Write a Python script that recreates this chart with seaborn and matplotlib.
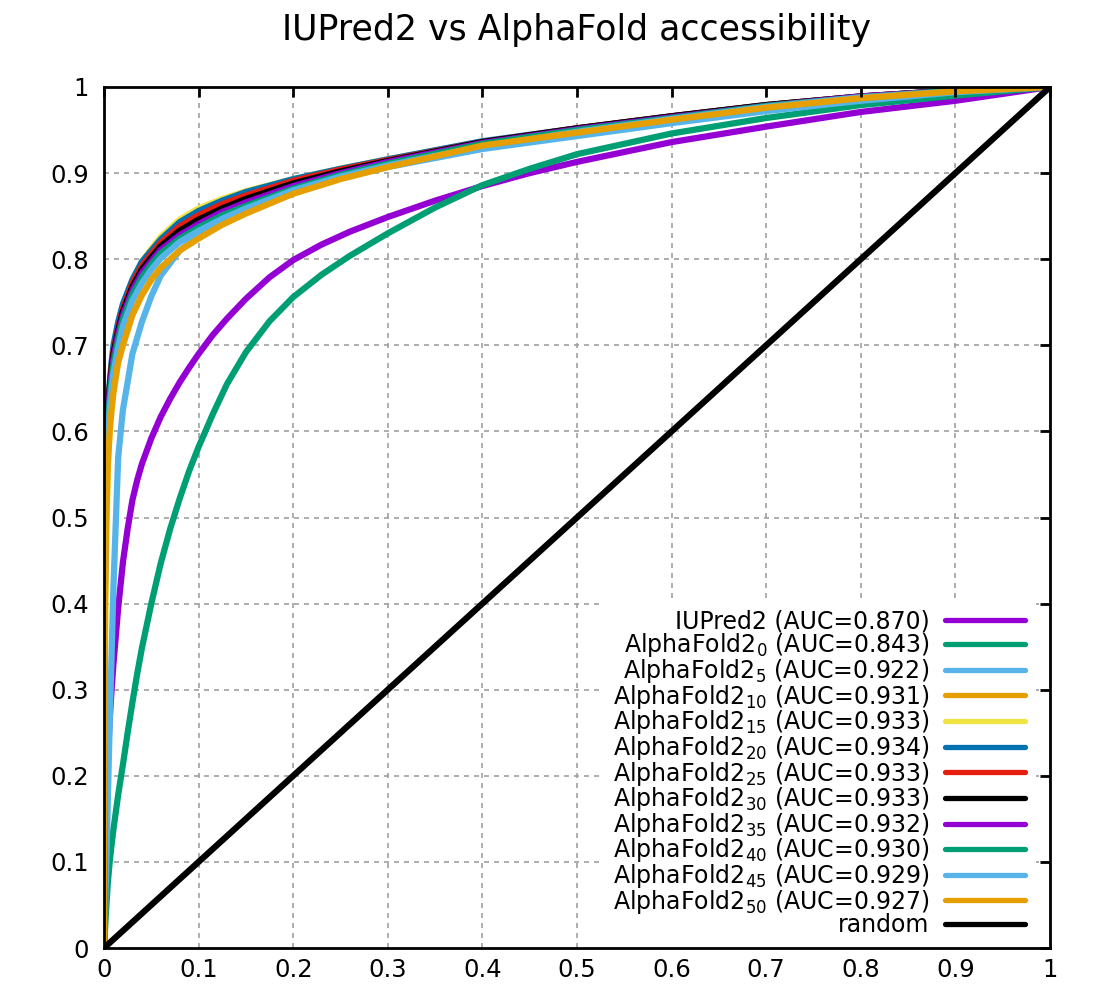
import numpy as np
import pandas as pd
import matplotlib
matplotlib.use('Agg')
import matplotlib.pyplot as plt
from matplotlib.ticker import FormatStrFormatter
import seaborn as sns

# finer FPR grid for the two lower curves
fpr_low = [0, 0.002, 0.004, 0.006, 0.008, 0.01, 0.015, 0.02, 0.025, 0.03, 0.035,
           0.04, 0.05, 0.06, 0.07, 0.08, 0.09, 0.1, 0.115, 0.13, 0.15, 0.175,
           0.2, 0.23, 0.26, 0.3, 0.35, 0.4, 0.45, 0.5, 0.6, 0.7, 0.8, 0.9, 1.0]
tpr_iupred2 = [0, 0.15, 0.22, 0.265, 0.30, 0.33, 0.395, 0.448, 0.487, 0.52, 0.543,
               0.562, 0.592, 0.617, 0.638, 0.657, 0.674, 0.69, 0.712, 0.731, 0.754,
               0.779, 0.799, 0.817, 0.832, 0.849, 0.868, 0.885, 0.90, 0.913, 0.936,
               0.954, 0.971, 0.984, 1.0]
tpr_af0 = [0, 0.04, 0.075, 0.10, 0.12, 0.138, 0.178, 0.213, 0.25, 0.285, 0.318,
           0.348, 0.40, 0.447, 0.487, 0.522, 0.554, 0.582, 0.62, 0.655, 0.692,
           0.728, 0.756, 0.782, 0.804, 0.83, 0.86, 0.886, 0.905, 0.922, 0.946,
           0.964, 0.979, 0.99, 1.0]

# FPR grid for the AlphaFold2 window curves
fpr = [0, 0.001, 0.002, 0.004, 0.006, 0.008, 0.01, 0.015, 0.02, 0.03, 0.04,
       0.05, 0.06, 0.08, 0.1, 0.125, 0.15, 0.2, 0.25, 0.3, 0.4, 0.5, 0.6,
       0.7, 0.8, 0.9, 1.0]
tpr_af5 = [0, 0.04, 0.08, 0.17, 0.26, 0.34, 0.42, 0.57, 0.625, 0.69, 0.727,
           0.757, 0.781, 0.81, 0.828, 0.845, 0.858, 0.879, 0.894, 0.907, 0.928,
           0.943, 0.958, 0.972, 0.984, 0.994, 1.0]
tpr_af10 = [0, 0.47, 0.56, 0.62, 0.65, 0.67, 0.688, 0.715, 0.736, 0.763, 0.782,
            0.795, 0.808, 0.826, 0.838, 0.851, 0.862, 0.881, 0.897, 0.911, 0.934,
            0.949, 0.963, 0.977, 0.988, 0.996, 1.0]
tpr_af15 = [0, 0.35, 0.45, 0.56, 0.60, 0.63, 0.66, 0.71, 0.74, 0.776, 0.797,
            0.812, 0.826, 0.846, 0.859, 0.870, 0.879, 0.893, 0.905, 0.916, 0.936,
            0.951, 0.965, 0.978, 0.988, 0.996, 1.0]
tpr_af20 = [0, 0.45, 0.55, 0.62, 0.655, 0.68, 0.70, 0.727, 0.748, 0.776, 0.797,
            0.81, 0.823, 0.843, 0.856, 0.868, 0.878, 0.893, 0.905, 0.916, 0.937,
            0.952, 0.966, 0.979, 0.989, 0.996, 1.0]
tpr_af25 = [0, 0.44, 0.54, 0.61, 0.65, 0.675, 0.693, 0.72, 0.742, 0.772, 0.792,
            0.806, 0.819, 0.838, 0.851, 0.864, 0.874, 0.891, 0.904, 0.915, 0.936,
            0.952, 0.966, 0.979, 0.989, 0.996, 1.0]
tpr_af30 = [0, 0.46, 0.56, 0.62, 0.65, 0.672, 0.69, 0.717, 0.739, 0.768, 0.788,
            0.802, 0.815, 0.833, 0.846, 0.859, 0.870, 0.888, 0.902, 0.914, 0.936,
            0.952, 0.966, 0.979, 0.989, 0.996, 1.0]
tpr_af35 = [0, 0.45, 0.55, 0.615, 0.645, 0.667, 0.685, 0.713, 0.735, 0.764, 0.784,
            0.798, 0.811, 0.828, 0.841, 0.855, 0.866, 0.885, 0.90, 0.913, 0.935,
            0.951, 0.965, 0.978, 0.989, 0.996, 1.0]
tpr_af40 = [0, 0.44, 0.54, 0.605, 0.637, 0.66, 0.678, 0.707, 0.73, 0.759, 0.779,
            0.794, 0.807, 0.824, 0.837, 0.851, 0.862, 0.882, 0.898, 0.911, 0.934,
            0.95, 0.964, 0.978, 0.988, 0.996, 1.0]
tpr_af45 = [0, 0.42, 0.52, 0.59, 0.625, 0.65, 0.668, 0.698, 0.722, 0.752, 0.772,
            0.788, 0.801, 0.82, 0.833, 0.847, 0.859, 0.88, 0.896, 0.909, 0.931,
            0.948, 0.963, 0.977, 0.988, 0.995, 1.0]
tpr_af50 = [0, 0.40, 0.48, 0.56, 0.60, 0.625, 0.645, 0.68, 0.70, 0.735, 0.758,
            0.776, 0.79, 0.81, 0.824, 0.84, 0.853, 0.876, 0.893, 0.907, 0.932,
            0.947, 0.962, 0.976, 0.987, 0.995, 1.0]
random_x = [0, 1]
random_y = [0, 1]

names = ['IUPred2', 'AlphaFold2$_{0}$', 'AlphaFold2$_{5}$', 'AlphaFold2$_{10}$',
         'AlphaFold2$_{15}$', 'AlphaFold2$_{20}$', 'AlphaFold2$_{25}$',
         'AlphaFold2$_{30}$', 'AlphaFold2$_{35}$', 'AlphaFold2$_{40}$',
         'AlphaFold2$_{45}$', 'AlphaFold2$_{50}$']
auc = [0.870, 0.843, 0.922, 0.931, 0.933, 0.934, 0.933, 0.933, 0.932, 0.930, 0.929, 0.927]
xs = [fpr_low, fpr_low] + [fpr] * 10
curves = [tpr_iupred2, tpr_af0, tpr_af5, tpr_af10, tpr_af15, tpr_af20, tpr_af25,
          tpr_af30, tpr_af35, tpr_af40, tpr_af45, tpr_af50]

# gnuplot default line colours
colors = ['#9400d3', '#009e73', '#56b4e9', '#e69f00', '#f0e442', '#0072b2',
          '#e51e10', '#000000', '#9400d3', '#009e73', '#56b4e9', '#e69f00']

ticks = [0, 0.1, 0.2, 0.3, 0.4, 0.5, 0.6, 0.7, 0.8, 0.9, 1.0]

sns.set_style('white')
plt.rcParams['font.family'] = ['DejaVu Sans']
plt.rcParams['mathtext.fontset'] = 'dejavusans'
plt.rcParams['text.color'] = 'black'
plt.rcParams['axes.titlecolor'] = 'black'

fig, ax = plt.subplots(figsize=(11, 10), dpi=100)
fig.subplots_adjust(left=104 / 1100, right=1050 / 1100, bottom=1 - 948 / 1000, top=1 - 87 / 1000)

# dashed grid behind everything
for t in ticks[1:-1]:
    ax.axvline(t, color='#a0a0a0', lw=1.2, ls=(0, (3, 3)), zorder=0.5)
    ax.axhline(t, color='#a0a0a0', lw=1.2, ls=(0, (3, 3)), zorder=0.5)

for name, a, x, tpr, c in zip(names, auc, xs, curves, colors):
    df = pd.DataFrame({'fpr': x, 'tpr': tpr})
    sns.lineplot(data=df, x='fpr', y='tpr', sort=False, estimator=None,
                 color=c, lw=4.5, label=f'{name} (AUC={a:.3f})', ax=ax)
sns.lineplot(x=random_x, y=random_y, sort=False, estimator=None,
             color='black', lw=4.5, label='random', ax=ax)

ax.set_xlim(0, 1)
ax.set_ylim(0, 1)
ax.set_xticks(ticks)
ax.set_yticks(ticks)
ax.xaxis.set_major_formatter(FormatStrFormatter('%g'))
ax.yaxis.set_major_formatter(FormatStrFormatter('%g'))
ax.set_xlabel('')
ax.set_ylabel('')
ax.tick_params(direction='in', length=7.5, width=2, top=True, right=True,
               labelsize=17.5, colors='black')
ax.tick_params(axis='x', pad=7)
ax.tick_params(axis='y', pad=11)
for sp in ax.spines.values():
    sp.set_linewidth(2)
    sp.set_color('black')
    sp.set_zorder(3)
ax.set_axisbelow(False)

handles, labels = ax.get_legend_handles_labels()
leg = ax.legend(handles, labels, loc='lower right', bbox_to_anchor=(0.985, 0.0),
                markerfirst=False, fontsize=17,
                frameon=True, fancybox=False, framealpha=1, facecolor='white',
                edgecolor='none', borderaxespad=0, borderpad=0.45, labelspacing=-0.1,
                handlelength=3.4, handletextpad=0.65)
for ln in leg.get_lines():
    ln.set_linewidth(3.8)
for t in leg.get_texts():
    t.set_color('black')
leg.set_zorder(2.2)

ax.set_title('IUPred2 vs AlphaFold accessibility', fontsize=25, pad=34, color='black')

fig.savefig('out.png', dpi=100)
